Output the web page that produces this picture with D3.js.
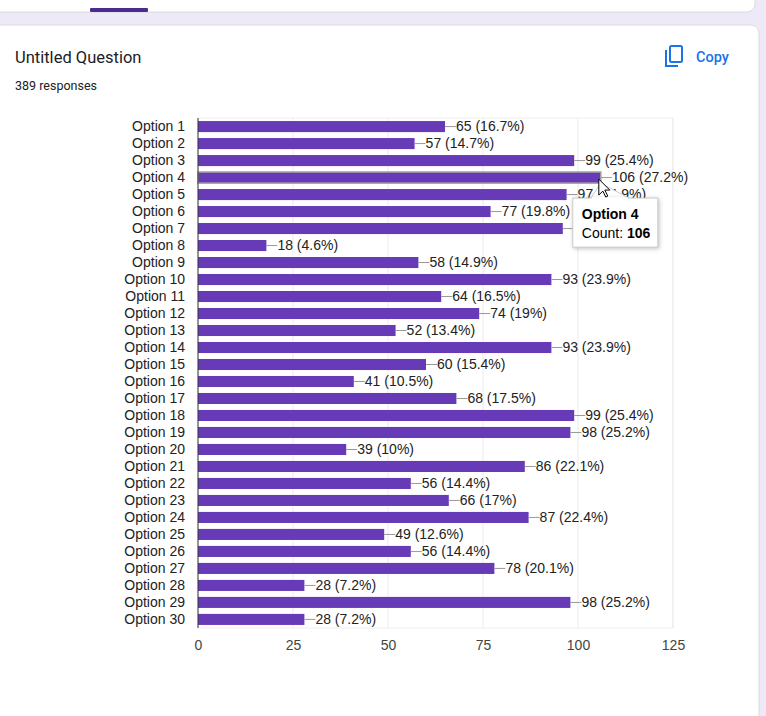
<!DOCTYPE html>
<html>
<head>
<meta charset="utf-8">
<script src="https://cdn.jsdelivr.net/npm/d3@7"></script>
<style>
    body { margin: 0; background: #ede9f7; font-family: Roboto, Arial, sans-serif; }
    svg { display: block; }
</style>
</head>
<body>
<svg id="chart" width="766" height="716"></svg>
<script>
// data
var options = ["Option 1", "Option 2", "Option 3", "Option 4", "Option 5", "Option 6", "Option 7", "Option 8", "Option 9", "Option 10",
    "Option 11", "Option 12", "Option 13", "Option 14", "Option 15", "Option 16", "Option 17", "Option 18", "Option 19", "Option 20",
    "Option 21", "Option 22", "Option 23", "Option 24", "Option 25", "Option 26", "Option 27", "Option 28", "Option 29", "Option 30"];
var counts = [65, 57, 99, 106, 97, 77, 96, 18, 58, 93, 64, 74, 52, 93, 60, 41, 68, 99, 98, 39, 86, 56, 66, 87, 49, 56, 78, 28, 98, 28];
var xTicks = [0, 25, 50, 75, 100, 125];
var totalResponses = 389;
var hovered = "Option 4";

var svg = d3.select("#chart");

// page chrome: previous card, current card
svg.append("rect").attr("x", -10).attr("y", -20).attr("width", 765).attr("height", 32)
    .attr("rx", 8).attr("fill", "#fff").attr("stroke", "#dadce0");
svg.append("rect").attr("x", 90).attr("y", 8).attr("width", 58).attr("height", 4)
    .attr("rx", 1).attr("fill", "#4b2c8c");
svg.append("rect").attr("x", -10).attr("y", 25).attr("width", 769).attr("height", 720)
    .attr("rx", 8).attr("fill", "#fff").attr("stroke", "#dadce0");

svg.append("text").attr("x", 15).attr("y", 63)
    .style("font-size", "16.5px").attr("fill", "#202124").text("Untitled Question");
svg.append("text").attr("x", 15).attr("y", 90)
    .style("font-size", "12.5px").attr("fill", "#202124").text(totalResponses + " responses");

// copy button
var copy = svg.append("g").attr("fill", "none").attr("stroke", "#1a73e8").attr("stroke-width", 2);
copy.append("path").attr("d", "M666,50 V66 H678");
copy.append("rect").attr("x", 670).attr("y", 46).attr("width", 12).attr("height", 16).attr("rx", 1.5);
svg.append("text").attr("x", 696).attr("y", 62).attr("fill", "#1a73e8")
    .style("font-size", "14.5px").style("font-weight", 500).text("Copy");

// chart
var plotLeft = 198, plotRight = 673, plotTop = 118, plotBottom = 628;
var labelFont = "Arial, 'Liberation Sans', sans-serif";

var x = d3.scaleLinear().domain([0, 125]).range([plotLeft, plotRight]);
var y = d3.scaleBand().domain(options).range([plotTop, plotBottom]).paddingInner(0.35).paddingOuter(0.18);

var plot = svg.append("g");
plot.append("rect").attr("x", plotLeft).attr("y", plotTop).attr("width", plotRight - plotLeft).attr("height", plotBottom - plotTop)
    .attr("fill", "none").attr("stroke", "#f0f0f0");

plot.selectAll(".grid")
    .data(xTicks.slice(1))
    .enter()
    .append("line")
    .attr("x1", d => x(d)).attr("x2", d => x(d))
    .attr("y1", plotTop).attr("y2", plotBottom)
    .attr("stroke", "#ebebeb");

var xAxis = d3.axisBottom(x).tickValues(xTicks).tickSize(0).tickPadding(12);
var gx = svg.append("g").attr("transform", `translate(0, ${plotBottom})`).call(xAxis);
gx.select(".domain").remove();
gx.selectAll("text").style("font-family", labelFont).style("font-size", "14px").attr("fill", "#444");

var yAxis = d3.axisLeft(y).tickSize(0).tickPadding(13);
var gy = svg.append("g").attr("transform", `translate(${plotLeft}, 0)`).call(yAxis);
gy.select(".domain").remove();
gy.selectAll("text").style("font-family", labelFont).style("font-size", "14px").attr("fill", "#222");

var rows = options.map((o, i) => ({ name: o, count: counts[i] }));

plot.selectAll(".bar")
    .data(rows)
    .enter()
    .append("rect")
    .attr("x", x(0))
    .attr("y", d => y(d.name))
    .attr("width", d => x(d.count) - x(0))
    .attr("height", y.bandwidth())
    .attr("fill", "#673ab7")
    .attr("stroke", d => d.name == hovered ? "#9e9e9e" : "none")
    .attr("stroke-width", 1.5);

plot.selectAll(".stem")
    .data(rows)
    .enter()
    .append("line")
    .attr("x1", d => x(d.count))
    .attr("x2", d => x(d.count) + 11)
    .attr("y1", d => y(d.name) + y.bandwidth() / 2)
    .attr("y2", d => y(d.name) + y.bandwidth() / 2)
    .attr("stroke", "#999");

function pct(v) {
    return +(v / totalResponses * 100).toFixed(1) + "%";
}

plot.selectAll(".val")
    .data(rows)
    .enter()
    .append("text")
    .attr("x", d => x(d.count) + 11)
    .attr("y", d => y(d.name) + y.bandwidth() / 2)
    .attr("dy", "0.35em")
    .style("font-family", labelFont).style("font-size", "14px")
    .attr("fill", "#222")
    .text(d => d.count + " (" + pct(d.count) + ")");

// y axis line on top of bars
svg.append("line").attr("x1", plotLeft).attr("x2", plotLeft).attr("y1", plotTop).attr("y2", plotBottom)
    .attr("stroke", "#333");

// tooltip for hovered bar
var hv = rows.find(d => d.name == hovered);
var hx = x(hv.count), hy = y(hv.name) + y.bandwidth();
var tip = svg.append("g");
tip.append("path")
    .attr("d", `M${hx},${hy} L${hx - 10},${hy + 15} L${hx + 28},${hy + 15} Z`)
    .attr("fill", "#fff").attr("stroke", "#ccc");
tip.append("rect").attr("x", hx - 28).attr("y", hy + 15).attr("width", 85).attr("height", 49)
    .attr("fill", "#fff").attr("stroke", "#ccc")
    .style("filter", "drop-shadow(1px 1px 2px rgba(0,0,0,0.25))");
tip.append("rect").attr("x", hx - 9).attr("y", hy + 14).attr("width", 36).attr("height", 3).attr("fill", "#fff");
tip.append("text").attr("x", hx - 19).attr("y", hy + 36)
    .style("font-family", labelFont).style("font-size", "14px").style("font-weight", "bold")
    .text(hv.name);
var cnt = tip.append("text").attr("x", hx - 19).attr("y", hy + 55)
    .style("font-family", labelFont).style("font-size", "14px");
cnt.append("tspan").text("Count: ");
cnt.append("tspan").style("font-weight", "bold").text(hv.count);

// mouse cursor
svg.append("path")
    .attr("d", `M${hx - 2},${hy - 4} l0,16 l4,-4 l3,6 l2,-1 l-3,-6 l5,0 Z`)
    .attr("fill", "#fff").attr("stroke", "#000").attr("stroke-width", 1);
</script>
</body>
</html>
